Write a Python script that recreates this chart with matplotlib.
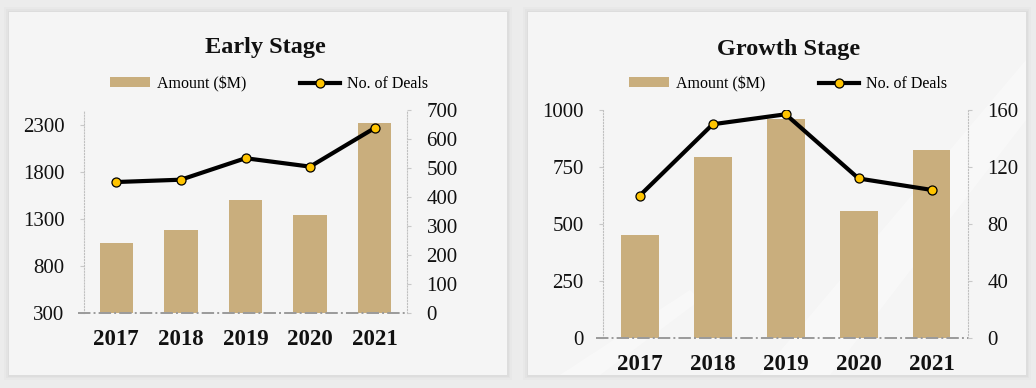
import matplotlib.pyplot as plt
from matplotlib.patches import Rectangle, Patch, Polygon
from matplotlib.lines import Line2D

years = ["2017", "2018", "2019", "2020", "2021"]

early_amount = [1047, 1181, 1500, 1347, 2321]
early_deals = [452, 460, 534, 505, 638]
early_left_ticks = [300, 800, 1300, 1800, 2300]
early_right_ticks = [0, 100, 200, 300, 400, 500, 600, 700]

growth_amount = [451, 793, 960, 559, 826]
growth_deals = [100, 150, 157, 112, 104]
growth_left_ticks = [0, 250, 500, 750, 1000]
growth_right_ticks = [0, 40, 80, 120, 160]

barColor = "#c9ae7d"
markerColor = "#ffc400"
textColor = "#111111"
serif = "Liberation Serif"

W, H = 1036, 388
fig = plt.figure(figsize=(W / 100, H / 100), dpi=100)
fig.patch.set_facecolor("#ececec")

def px(x0, y0, x1, y1) :
    # pixel box (top-left origin) -> figure fraction rect
    return [x0 / W, 1 - y1 / H, (x1 - x0) / W, (y1 - y0) / H]

def drawPanel(x0, y0, x1, y1) :
    for d, a in [(5, 0.015), (3, 0.02), (1.5, 0.025)] :
        fig.patches.append(Rectangle(((x0 - d) / W, 1 - (y1 + d) / H), (x1 - x0 + 2 * d) / W, (y1 - y0 + 2 * d) / H,
                                     transform=fig.transFigure, facecolor="black", alpha=a, edgecolor="none", zorder=-10))
    fig.patches.append(Rectangle((x0 / W, 1 - y1 / H), (x1 - x0) / W, (y1 - y0) / H,
                                 transform=fig.transFigure, facecolor="#f5f5f5", edgecolor="none", zorder=-9))

drawPanel(9, 12, 507, 375)
drawPanel(528, 12, 1026, 375)

# light streaks on the right panel
for pts in [[(760, 375), (830, 375), (1026, 120), (1026, 60)], [(560, 375), (600, 375), (700, 300), (690, 290)]] :
    fig.patches.append(Polygon([(x / W, 1 - y / H) for x, y in pts], closed=True, transform=fig.transFigure,
                               facecolor="white", alpha=0.35, edgecolor="none", zorder=-8))

def createStageChart(rect, title, titleXY, legendXY, amount, deals, leftTicks, leftLim, rightTicks, rightLim) :
    axes = fig.add_axes(rect)
    axes.set_facecolor("none")
    x = list(range(len(years)))
    axes.bar(x, [a - leftLim[0] for a in amount], bottom=leftLim[0], width=0.52, color=barColor, zorder=2)
    axes.set_xlim(-0.5, len(years) - 0.5)
    axes.set_ylim(leftLim)
    axes.set_yticks(leftTicks)
    axes.set_yticklabels([str(t) for t in leftTicks], fontsize=15, family=serif, color=textColor)
    axes.set_xticks(x)
    axes.set_xticklabels(years, fontsize=16.5, family=serif, fontweight="bold", color=textColor)
    axes.tick_params(axis="x", length=0, pad=11)
    axes.tick_params(axis="y", length=3, color="#c8c8c8", pad=11)
    for s in ["top", "bottom"] :
        axes.spines[s].set_visible(False)
    for s in ["left", "right"] :
        axes.spines[s].set_linestyle(":")
        axes.spines[s].set_color("#c0c0c0")
        axes.spines[s].set_linewidth(0.8)
    axes.axhline(leftLim[0], xmin=-0.02, xmax=1.0, color="#9a9a9a", linestyle="-.", linewidth=1.4, clip_on=False, zorder=3)

    axes2 = axes.twinx()
    axes2.plot(x, deals, color="black", linewidth=3, marker="o", markersize=6.5,
               markerfacecolor=markerColor, markeredgecolor="black", markeredgewidth=0.9, zorder=4)
    axes2.set_ylim(rightLim)
    axes2.set_yticks(rightTicks)
    axes2.set_yticklabels([str(t) for t in rightTicks], fontsize=15, family=serif, color=textColor)
    axes2.tick_params(axis="y", length=3, color="#c8c8c8", pad=11)
    for s in ["top", "bottom", "left", "right"] :
        axes2.spines[s].set_visible(False)

    fig.text(titleXY[0] / W, 1 - titleXY[1] / H, title, ha="center", va="center",
             fontsize=17.5, fontweight="bold", family=serif, color=textColor)

    handles = [Patch(facecolor=barColor, edgecolor="none"),
               Line2D([], [], color="black", linewidth=3, marker="o", markersize=6.5,
                      markerfacecolor=markerColor, markeredgecolor="black", markeredgewidth=0.9)]
    fig.legend(handles, ["Amount ($M)", "No. of Deals"], loc="center",
               bbox_to_anchor=(legendXY[0] / W, 1 - legendXY[1] / H), ncol=2, frameon=False,
               prop={"family": serif, "size": 11.5}, handlelength=2.5, handletextpad=0.4,
               columnspacing=3.4, handleheight=0.6)

createStageChart(px(84, 110, 407, 313.3), "Early Stage", (265, 47), (269, 84),
                 early_amount, early_deals, early_left_ticks, (300, 2460), early_right_ticks, (0, 700))
createStageChart(px(603.3, 110, 968, 338.3), "Growth Stage", (789, 50), (788, 84),
                 growth_amount, growth_deals, growth_left_ticks, (0, 1000), growth_right_ticks, (0, 160))

fig.savefig("out.png", dpi=100, facecolor=fig.get_facecolor())
